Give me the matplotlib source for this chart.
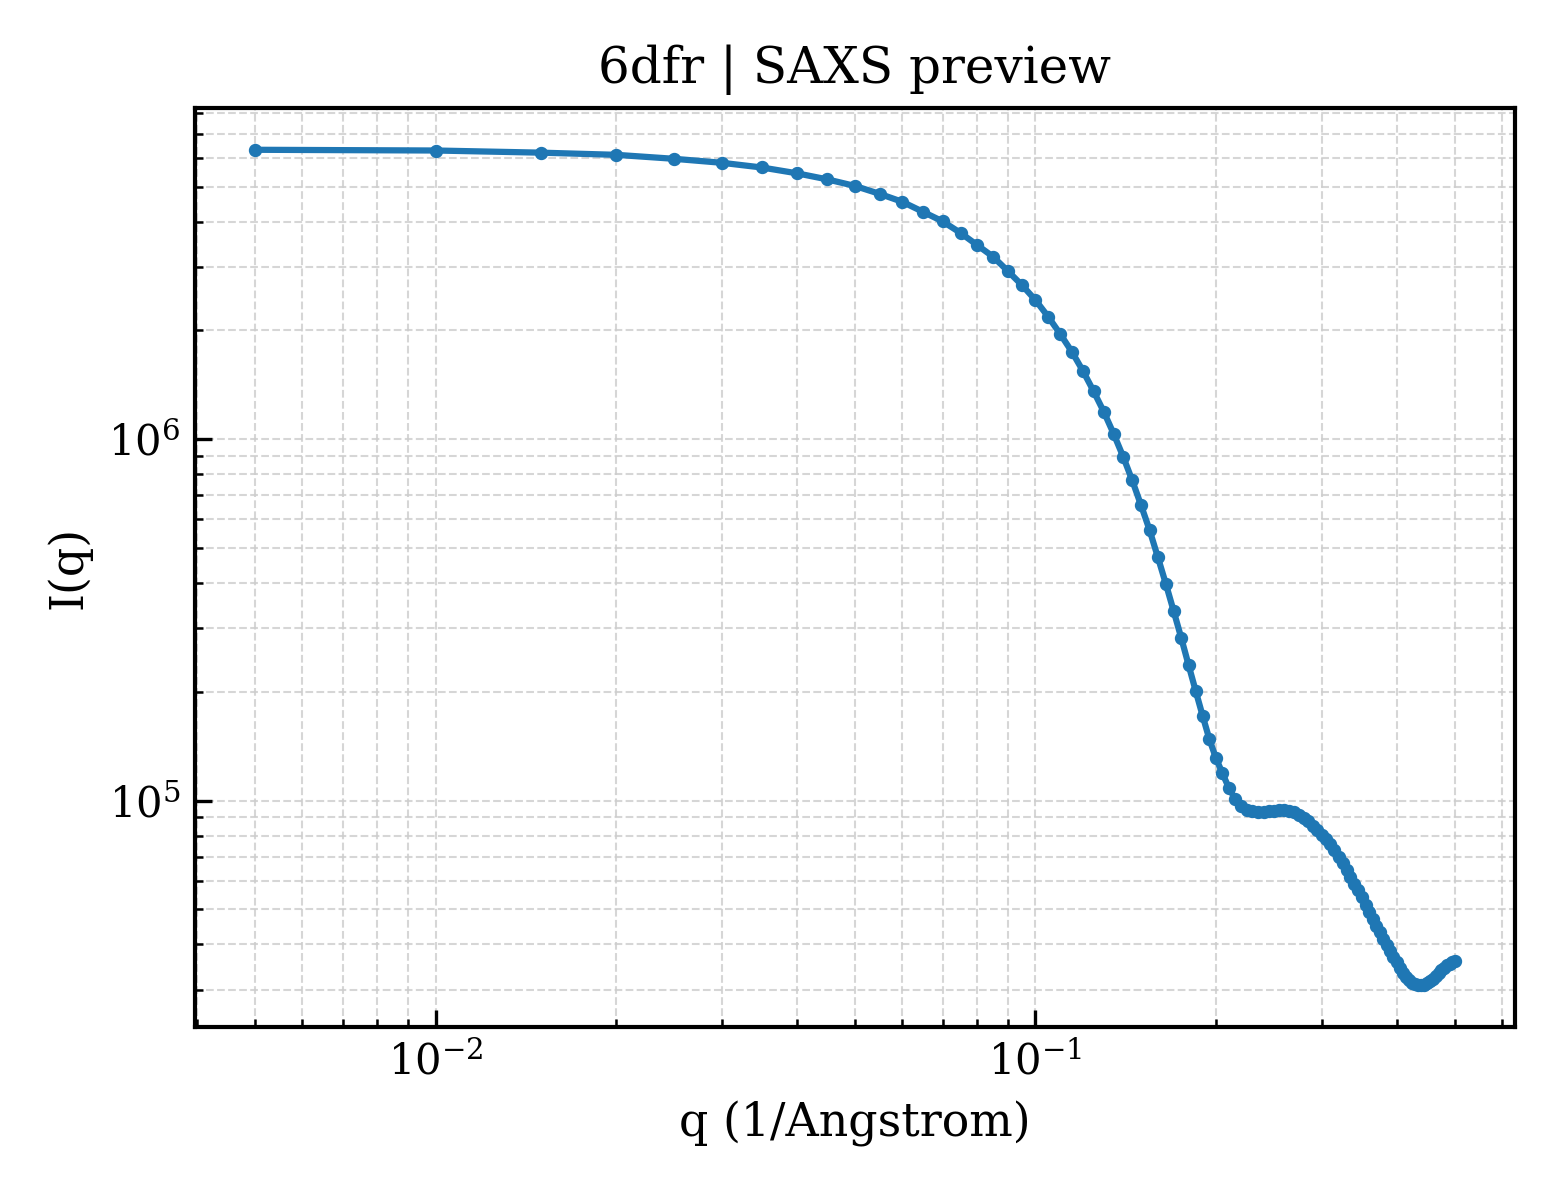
import numpy as np
import matplotlib
matplotlib.use("Agg")
import matplotlib.pyplot as plt

# scattering vector (1/Angstrom)
q = [
    0.005, 0.010, 0.015, 0.020, 0.025, 0.030, 0.035, 0.040, 0.045, 0.050,
    0.055, 0.060, 0.065, 0.070, 0.075, 0.080, 0.085, 0.090, 0.095, 0.100,
    0.105, 0.110, 0.115, 0.120, 0.125, 0.130, 0.135, 0.140, 0.145, 0.150,
    0.155, 0.160, 0.165, 0.170, 0.175, 0.180, 0.185, 0.190, 0.195, 0.200,
    0.205, 0.210, 0.215, 0.220, 0.225, 0.230, 0.235, 0.240, 0.245, 0.250,
    0.255, 0.260, 0.265, 0.270, 0.275, 0.280, 0.285, 0.290, 0.295, 0.300,
    0.305, 0.310, 0.315, 0.320, 0.325, 0.330, 0.335, 0.340, 0.345, 0.350,
    0.355, 0.360, 0.365, 0.370, 0.375, 0.380, 0.385, 0.390, 0.395, 0.400,
    0.405, 0.410, 0.415, 0.420, 0.425, 0.430, 0.435, 0.440, 0.445, 0.450,
    0.455, 0.460, 0.465, 0.470, 0.475, 0.480, 0.485, 0.490, 0.495, 0.500,
]

# intensity
intensity = [
    6.324e6, 6.295e6, 6.209e6, 6.124e6, 5.970e6, 5.821e6, 5.649e6, 5.445e6, 5.236e6, 5.023e6,
    4.775e6, 4.539e6, 4.256e6, 4.009e6, 3.724e6, 3.443e6, 3.199e6, 2.917e6, 2.667e6, 2.427e6,
    2.183e6, 1.954e6, 1.746e6, 1.545e6, 1.358e6, 1.191e6, 1.035e6, 8.954e5, 7.691e5, 6.561e5,
    5.598e5, 4.710e5, 3.972e5, 3.342e5, 2.818e5, 2.371e5, 2.009e5, 1.714e5, 1.476e5, 1.309e5,
    1.189e5, 1.086e5, 1.012e5, 9.66e4, 9.44e4, 9.33e4, 9.29e4, 9.29e4, 9.33e4, 9.38e4,
    9.40e4, 9.40e4, 9.38e4, 9.29e4, 9.14e4, 8.97e4, 8.77e4, 8.53e4, 8.28e4, 8.04e4,
    7.82e4, 7.59e4, 7.28e4, 7.00e4, 6.70e4, 6.41e4, 6.14e4, 5.89e4, 5.65e4, 5.41e4,
    5.15e4, 4.92e4, 4.69e4, 4.50e4, 4.32e4, 4.15e4, 3.98e4, 3.84e4, 3.70e4, 3.57e4,
    3.45e4, 3.34e4, 3.25e4, 3.18e4, 3.13e4, 3.10e4, 3.09e4, 3.08e4, 3.09e4, 3.12e4,
    3.16e4, 3.21e4, 3.27e4, 3.33e4, 3.40e4, 3.45e4, 3.50e4, 3.54e4, 3.57e4, 3.60e4,
]

plt.rcParams['font.family'] = ['DejaVu Serif']
plt.rcParams['mathtext.fontset'] = 'dejavuserif'

fig, ax = plt.subplots(figsize=(5.2, 4.0), dpi=300)
fig.subplots_adjust(left=0.125, right=0.971, top=0.91, bottom=0.144)

ax.plot(q, intensity, color='#1f77b4', lw=1.5, marker='o', ms=2.2)
ax.set_xscale('log')
ax.set_yscale('log')

ax.set_title("6dfr | SAXS preview", fontsize=12)
ax.set_xlabel("q (1/Angstrom)", fontsize=11)
ax.set_ylabel("I(q)", fontsize=11)

ax.grid(True, which='both', linestyle='--', color='#cccccc', lw=0.5, alpha=0.8)
ax.tick_params(which='both', direction='in', labelsize=10)
ax.tick_params(which='major', length=4, width=0.8)
ax.tick_params(which='minor', length=2, width=0.6)
for s in ax.spines.values():
    s.set_linewidth(1.0)

fig.savefig("out.png", dpi=300)
